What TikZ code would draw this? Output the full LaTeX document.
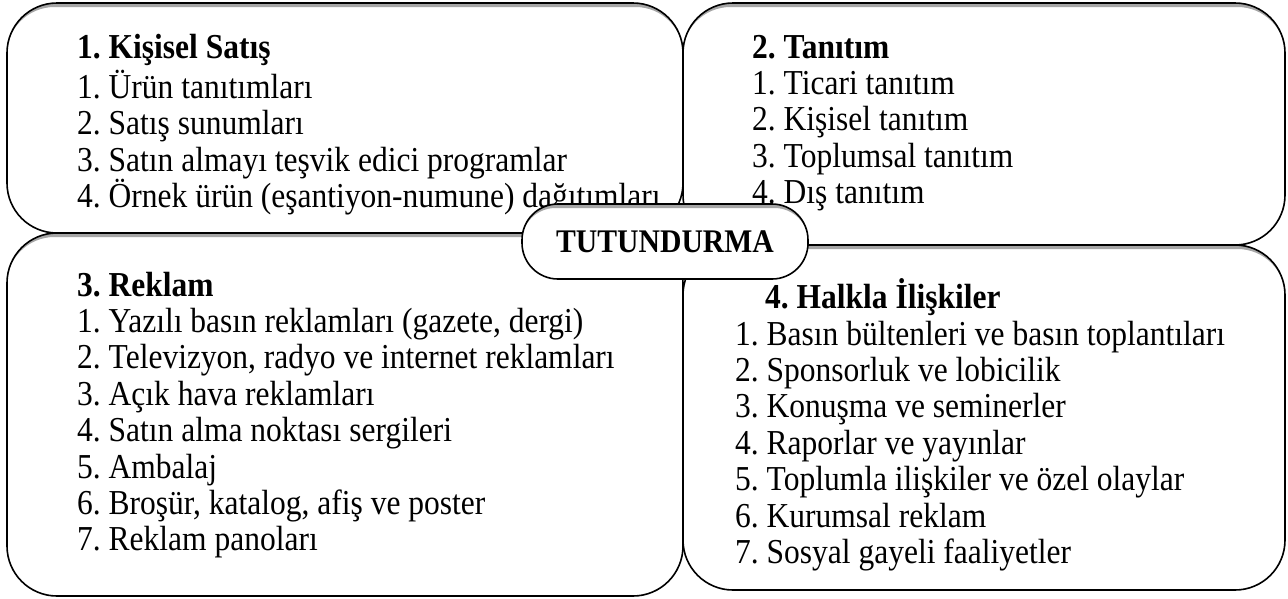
\documentclass[tikz,border=0pt]{standalone}
\usepackage{fontspec}
\setmainfont[FakeStretch=0.9]{Liberation Serif}
\frenchspacing
\usetikzlibrary{positioning}
\tikzset{
  panel/.style={
    rectangle, rounded corners=50pt, draw=black, line width=1.6pt,
    fill=white, inner sep=0pt,
    path picture={
      \draw[gray!70, line width=4pt, rounded corners=50pt]
        ([xshift=-2.5pt,yshift=-2pt]path picture bounding box.north west) rectangle
        ([xshift=2.5pt,yshift=-2pt]path picture bounding box.south east);
    }
  },
  coretitle/.style={
    rectangle, rounded corners=36pt, draw=black, line width=1.6pt,
    fill=white, inner sep=0pt, minimum width=286pt, minimum height=75pt,
    font=\fontsize{33}{33}\selectfont\bfseries,
    path picture={
      \draw[gray!70, line width=4pt, rounded corners=36pt]
        ([xshift=-2.5pt,yshift=-2pt]path picture bounding box.north west) rectangle
        ([xshift=2.5pt,yshift=-2pt]path picture bounding box.south east);
    }
  },
  itemlist/.style={
    anchor=north west, inner sep=0pt, align=left,
    font=\fontsize{35}{36.4}\selectfont
  }
}

\begin{document}
\begin{tikzpicture}[x=1pt, y=-1pt]
  \useasboundingbox (0,0) rectangle (1288,598);

  %% --- four panels ---
  \node[panel, minimum width=676pt, minimum height=230pt] (satis) at (345,118) {};
  \node[panel, minimum width=602pt, minimum height=242pt] (tanitim) at (984,124) {};
  \node[panel, minimum width=676pt, minimum height=363pt] (reklam) at (345,414.5) {};
  \node[panel, minimum width=602pt, minimum height=345pt] (halkla) at (984,417.5) {};

  %% --- panel texts (top = first baseline - strut height) ---
  \node[itemlist] (satistext) at (77,32.5)
    {\strut\textbf{1. Kişisel Satış}\\
     1. Ürün tanıtımları\\
     2. Satış sunumları\\
     3. Satın almayı teşvik edici programlar\\
     4. Örnek ürün (eşantiyon-numune) dağıtımları};
  \node[itemlist] (tanitimtext) at (752,32.5)
    {\strut\textbf{2. Tanıtım}\\
     1. Ticari tanıtım\\
     2. Kişisel tanıtım\\
     3. Toplumsal tanıtım\\
     4. Dış tanıtım};
  \node[itemlist] (reklamtext) at (77,270.5)
    {\strut\textbf{3. Reklam}\\
     1. Yazılı basın reklamları (gazete, dergi)\\
     2. Televizyon, radyo ve internet reklamları\\
     3. Açık hava reklamları\\
     4. Satın alma noktası sergileri\\
     5. Ambalaj\\
     6. Broşür, katalog, afiş ve poster\\
     7. Reklam panoları};
  \node[itemlist] (halklatext) at (735,278.5)
    {\strut\hspace*{30pt}\textbf{4. Halkla İlişkiler}\\
     1. Basın bültenleri ve basın toplantıları\\
     2. Sponsorluk ve lobicilik\\
     3. Konuşma ve seminerler\\
     4. Raporlar ve yayınlar\\
     5. Toplumla ilişkiler ve özel olaylar\\
     6. Kurumsal reklam\\
     7. Sosyal gayeli faaliyetler};

  %% --- centre ---
  \node[coretitle] (core) at (665,241.5) {\raisebox{-3pt}{TUTUNDURMA}};
\end{tikzpicture}
\end{document}
